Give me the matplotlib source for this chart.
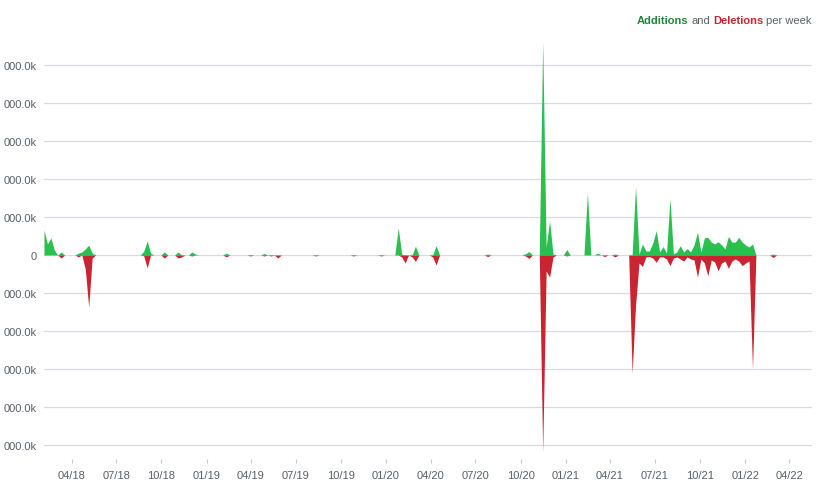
import matplotlib
matplotlib.use('Agg')
import matplotlib.pyplot as plt
import matplotlib.dates as mdates
import numpy as np
import pandas as pd

# semanas (domingo) a partir do início do histórico
first_week = '2018-02-04'
n_weeks = 216

# linhas adicionadas / removidas por semana, em milhares (k)
additions = [
    660, 290, 450, 130, 0, 80, 0, 0, 0, 0, 50, 80,
    160, 260, 50, 0, 0, 0, 0, 0, 0, 0, 0, 0,
    0, 0, 0, 0, 0, 100, 370, 50, 0, 0, 0, 80,
    0, 0, 0, 80, 0, 0, 0, 80, 25, 0, 0, 0,
    0, 0, 0, 0, 0, 50, 0, 0, 0, 0, 0, 0,
    0, 0, 0, 0, 40, 0, 0, 0, 0, 0, 0, 0,
    0, 0, 0, 0, 0, 0, 0, 0, 0, 0, 0, 0,
    0, 0, 0, 0, 0, 0, 0, 0, 0, 0, 0, 0,
    0, 0, 0, 0, 0, 0, 0, 710, 25, 0, 0, 0,
    230, 0, 0, 0, 0, 0, 245, 0, 0, 0, 0, 0,
    0, 0, 0, 0, 0, 0, 0, 0, 0, 25, 0, 0,
    0, 0, 0, 0, 0, 0, 0, 0, 30, 90, 0, 0,
    0, 5600, 210, 900, 25, 0, 0, 0, 145, 0, 0, 0,
    0, 0, 1630, 0, 0, 50, 0, 0, 0, 0, 25, 0,
    0, 0, 0, 0, 1810, 25, 290, 105, 105, 315, 640, 80,
    220, 50, 1490, 25, 80, 245, 80, 170, 80, 265, 600, 80,
    450, 465, 340, 290, 350, 265, 160, 490, 340, 340, 465, 340,
    265, 210, 290, 0, 0, 0, 0, 0, 25, 0, 0, 0,
]
deletions = [
    0, 0, 0, 0, 0, 80, 0, 0, 0, 0, 50, 0,
    370, 1370, 80, 0, 0, 0, 0, 0, 0, 0, 0, 0,
    0, 0, 0, 0, 0, 20, 340, 0, 0, 0, 0, 80,
    0, 0, 0, 80, 50, 0, 0, 25, 0, 0, 0, 0,
    0, 0, 0, 0, 0, 50, 0, 0, 0, 0, 0, 0,
    25, 0, 0, 0, 25, 0, 25, 0, 80, 0, 0, 0,
    0, 0, 0, 0, 0, 0, 0, 25, 0, 0, 0, 0,
    0, 0, 0, 0, 0, 0, 25, 0, 0, 0, 0, 0,
    0, 0, 25, 0, 0, 0, 0, 0, 50, 210, 0, 50,
    165, 0, 0, 0, 0, 50, 265, 0, 0, 0, 0, 0,
    0, 0, 0, 0, 0, 0, 0, 0, 0, 40, 0, 0,
    0, 0, 0, 0, 0, 0, 0, 0, 25, 90, 0, 0,
    0, 5180, 420, 580, 50, 0, 0, 0, 25, 0, 0, 0,
    0, 0, 0, 0, 0, 0, 0, 40, 0, 0, 50, 0,
    0, 0, 0, 3105, 1315, 210, 300, 50, 40, 80, 190, 50,
    50, 105, 280, 80, 50, 105, 160, 50, 105, 130, 580, 105,
    210, 545, 130, 185, 415, 210, 160, 350, 160, 105, 160, 280,
    210, 160, 3000, 0, 0, 0, 0, 0, 65, 0, 0, 0,
]

y_ticks = [-5000, -4000, -3000, -2000, -1000, 0, 1000, 2000, 3000, 4000, 5000]
y_tick_labels = ['000.0k' if v != 0 else '0' for v in y_ticks]

weeks = pd.date_range(first_week, periods=n_weeks, freq='7D')
add = np.array(additions, dtype=float)
dele = -np.array(deletions, dtype=float)

green = '#2cbe4e'
red = '#cb2431'
grid_color = '#d8dbe2'
text_gray = '#586069'

plt.rcParams['font.family'] = ['Liberation Sans', 'DejaVu Sans']

fig = plt.figure(figsize=(8.27, 4.89), dpi=100)
ax = fig.add_axes([44 / 827, 29 / 489, 768 / 827, 420 / 489])

for v in y_ticks:
    ax.axhline(v, color=grid_color, lw=0.9, zorder=0)

ax.fill_between(weeks, 0, add, color=green, lw=0, zorder=2)
ax.fill_between(weeks, 0, dele, color=red, lw=0, zorder=2)

ax.set_xlim(weeks[0], weeks[0] + pd.Timedelta(weeks=223.3))
ax.set_ylim(-5368, 5684)

ax.set_yticks(y_ticks)
ax.set_yticklabels(y_tick_labels)
ax.xaxis.set_major_locator(mdates.MonthLocator(bymonth=[1, 4, 7, 10]))
ax.xaxis.set_major_formatter(mdates.DateFormatter('%m/%y'))

ax.tick_params(axis='y', length=0, pad=5, labelsize=8, labelcolor=text_gray)
ax.tick_params(axis='x', length=3, width=0.8, color='#c8ccd2', pad=5,
               labelsize=8, labelcolor=text_gray)
for s in ax.spines.values():
    s.set_visible(False)

# legenda no canto superior direito, montada da direita para a esquerda
pieces = [('per week', text_gray, 'normal'),
          ('Deletions', red, 'bold'),
          ('and', text_gray, 'normal'),
          ('Additions', '#22863a', 'bold')]
fig.canvas.draw()
renderer = fig.canvas.get_renderer()
x_right = 812 / 827
y_txt = 1 - 21.5 / 489
gap = 3.0 / 827
for txt, col, wt in pieces:
    t = fig.text(x_right, y_txt, txt, color=col, fontweight=wt, fontsize=8,
                 ha='right', va='center')
    bb = t.get_window_extent(renderer=renderer)
    x_right = x_right - bb.width / 827 - gap

fig.savefig('out.png', dpi=100, facecolor='white')
